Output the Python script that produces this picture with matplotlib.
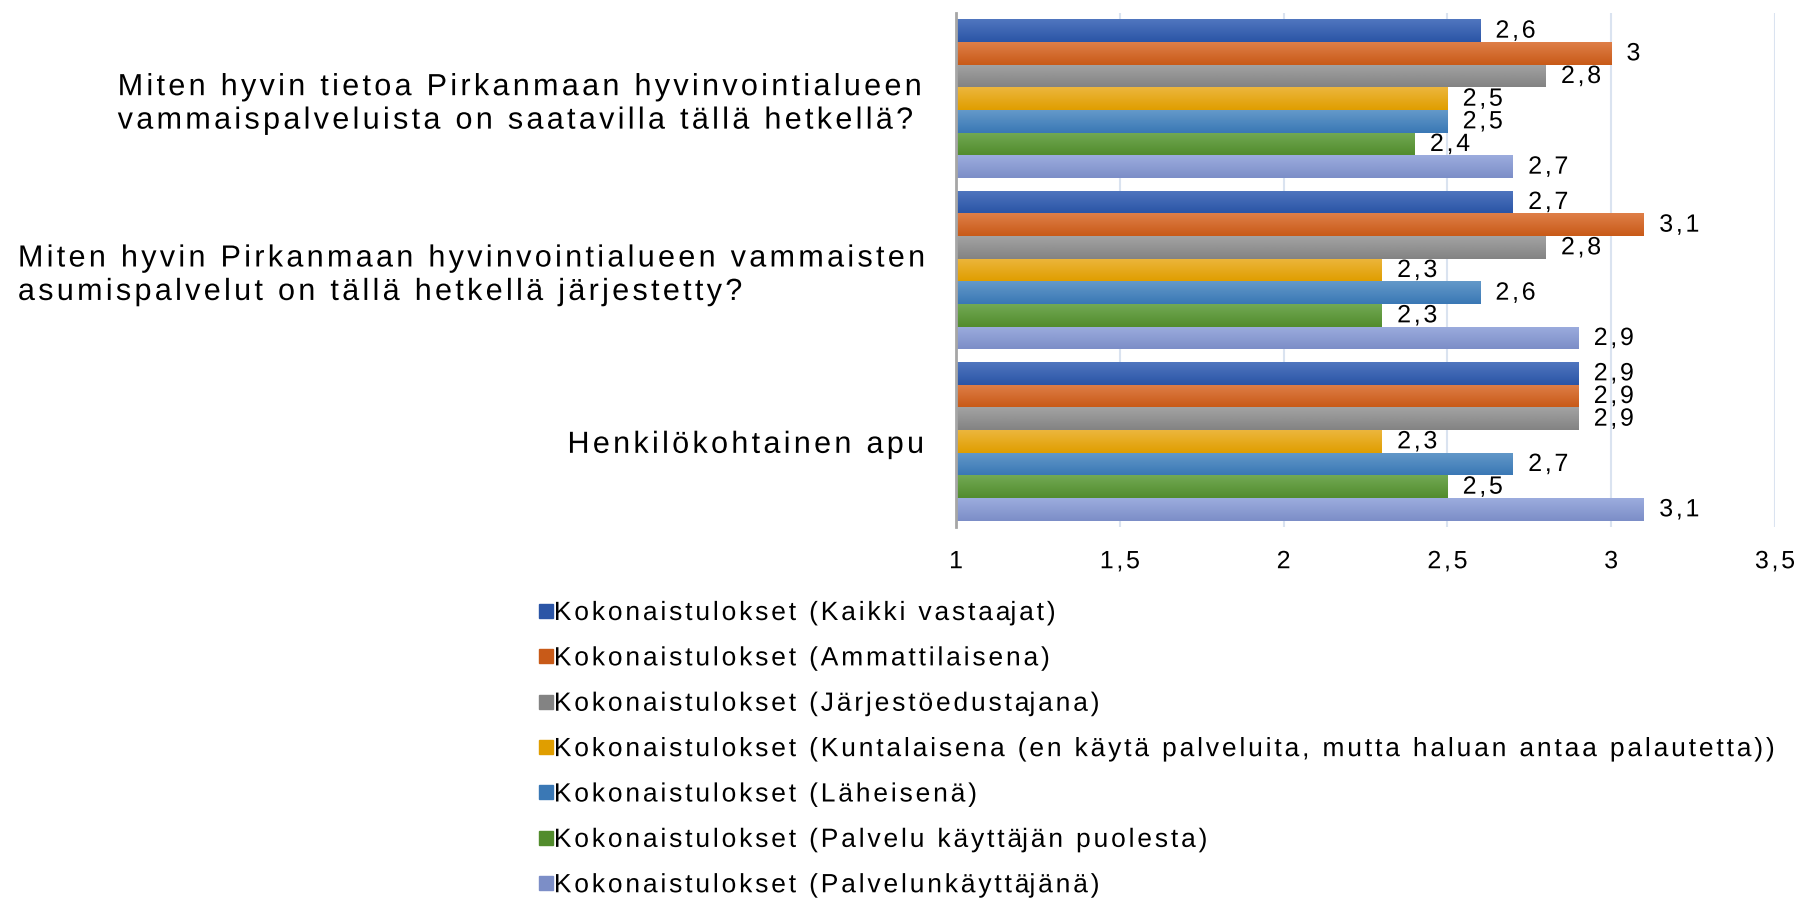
import matplotlib.pyplot as plt
import numpy as np
from matplotlib.colors import LinearSegmentedColormap
from matplotlib.lines import Line2D
from matplotlib.patheffects import AbstractPathEffect
from matplotlib.path import Path
from matplotlib.transforms import IdentityTransform

plt.rcParams['font.family'] = ['Liberation Sans', 'DejaVu Sans']

questions = [
    "Miten hyvin tietoa Pirkanmaan hyvinvointialueen\nvammaispalveluista on saatavilla tällä hetkellä?",
    "Miten hyvin Pirkanmaan hyvinvointialueen vammaisten\nasumispalvelut on tällä hetkellä järjestetty?",
    "Henkilökohtainen apu",
]
series = [
    "Kokonaistulokset (Kaikki vastaajat)",
    "Kokonaistulokset (Ammattilaisena)",
    "Kokonaistulokset (Järjestöedustajana)",
    "Kokonaistulokset (Kuntalaisena (en käytä palveluita, mutta haluan antaa palautetta))",
    "Kokonaistulokset (Läheisenä)",
    "Kokonaistulokset (Palvelu käyttäjän puolesta)",
    "Kokonaistulokset (Palvelunkäyttäjänä)",
]
# values[series][question]
values = [
    [2.6, 2.7, 2.9],
    [3.0, 3.1, 2.9],
    [2.8, 2.8, 2.9],
    [2.5, 2.3, 2.3],
    [2.5, 2.6, 2.7],
    [2.4, 2.3, 2.5],
    [2.7, 2.9, 3.1],
]
xticks = [1, 1.5, 2, 2.5, 3, 3.5]
xtick_labels = ["1", "1,5", "2", "2,5", "3", "3,5"]

# (top colour, bottom colour) of each bar gradient
grads = [
    ("#5076bf", "#2b55a6"),
    ("#df7f48", "#c85a18"),
    ("#a3a3a3", "#838383"),
    ("#ecb63d", "#e09e00"),
    ("#6499c9", "#3a78b5"),
    ("#72a954", "#528c2d"),
    ("#9cacde", "#7c8ec7"),
]

SP = 0.108  # letter spacing of the original, in em


class Tracking(AbstractPathEffect):
    """letter spacing: move every glyph outline right by SP em per character before it"""
    def __init__(self, align=0.0, pre=None):
        super().__init__()
        self.align, self.pre = align, pre

    def draw_path(self, renderer, gc, tpath, affine, rgbFace=None):
        p = affine.transform_path(tpath)
        verts, codes = p.vertices.copy(), p.codes
        if codes is None or len(verts) == 0:
            renderer.draw_path(gc, tpath, affine, rgbFace)
            return
        em = abs(affine.get_matrix()[0, 0]) * 100  # text paths are built at size 100
        real = codes != Path.CLOSEPOLY
        starts = list(np.flatnonzero(codes == Path.MOVETO)) + [len(verts)]
        subs = []
        for a, b in zip(starts[:-1], starts[1:]):
            xs = verts[a:b][real[a:b], 0]
            if len(xs):
                subs.append((xs.min(), xs.max(), a, b))
        subs.sort()
        n, right, idx = 0, None, []
        for lo, hi, a, b in subs:
            if right is not None and lo > right - 0.02 * em:
                n += 1
                if lo - right > 0.2 * em:  # a space
                    n += 1
            right = hi if right is None else max(right, hi)
            idx.append((a, b, n))
        pre = self.align * n if self.pre is None else self.pre
        for a, b, k in idx:
            verts[a:b, 0] += (k - pre) * SP * em
        renderer.draw_path(gc, Path(verts, codes), IdentityTransform(), rgbFace)


fig = plt.figure(figsize=(17.99, 8.99), dpi=100)
ax = fig.add_axes([956/1799, 1 - 527/899, (1775-956)/1799, 514/899])

h = 0.1323
base = 1.0
y = np.arange(len(questions))
for i, (name, vals) in enumerate(zip(series, values)):
    pos = y + (i - 3) * h
    bars = ax.barh(pos, np.array(vals) - base, left=base, height=h,
                   facecolor="none", edgecolor="none", zorder=2)
    cmap = LinearSegmentedColormap.from_list("g%d" % i, list(grads[i]))
    for b, v, p in zip(bars, vals, pos):
        im = ax.imshow(np.linspace(0, 1, 50).reshape(-1, 1), cmap=cmap,
                       aspect="auto", origin="upper",
                       extent=(base, v, p + h/2, p - h/2), zorder=2)
        im.set_clip_path(b)
        lab = ("%g" % v).replace(".", ",")
        ax.annotate(lab, (v, p), xytext=(11, 0), textcoords="offset points",
                    va="center", ha="left", fontsize=18, color="black",
                    path_effects=[Tracking()])

ax.set_xlim(1, 3.5)
ax.set_ylim(2.5, -0.5)
ax.set_xticks(xticks)
ax.set_xticklabels(xtick_labels, fontsize=18)
ax.set_yticks(y)
ax.set_yticklabels(questions, fontsize=22, linespacing=1.15, multialignment="left")
ax.tick_params(axis="both", length=0)
ax.tick_params(axis="x", pad=16)
ax.tick_params(axis="y", pad=24)
ax.grid(axis="x", color="#dae3f0", linewidth=1.5, zorder=0)
ax.set_axisbelow(True)
for s in ["top", "right", "bottom"]:
    ax.spines[s].set_visible(False)
ax.spines["left"].set_color("#a6a6a6")
ax.spines["left"].set_linewidth(2)

handles = [Line2D([], [], marker="s", linestyle="none", markersize=9.5,
                  color=g[1]) for g in grads]
leg = fig.legend(handles, series, loc="upper left",
                 bbox_to_anchor=(538/1799, 1 - 601/899),
                 frameon=False, fontsize=19, handlelength=0.6, handletextpad=0.0,
                 labelspacing=0.81, borderpad=0, borderaxespad=0)
for t in leg.get_texts():
    t.set_path_effects([Tracking()])
for t in ax.get_xticklabels():
    t.set_path_effects([Tracking(align=0.5)])
# y labels are a right aligned block: spread leftwards by the longest line
for t, q in zip(ax.get_yticklabels(), questions):
    t.set_path_effects([Tracking(pre=max(len(s) for s in q.split("\n")) - 1)])

fig.savefig("out.png", dpi=100)
